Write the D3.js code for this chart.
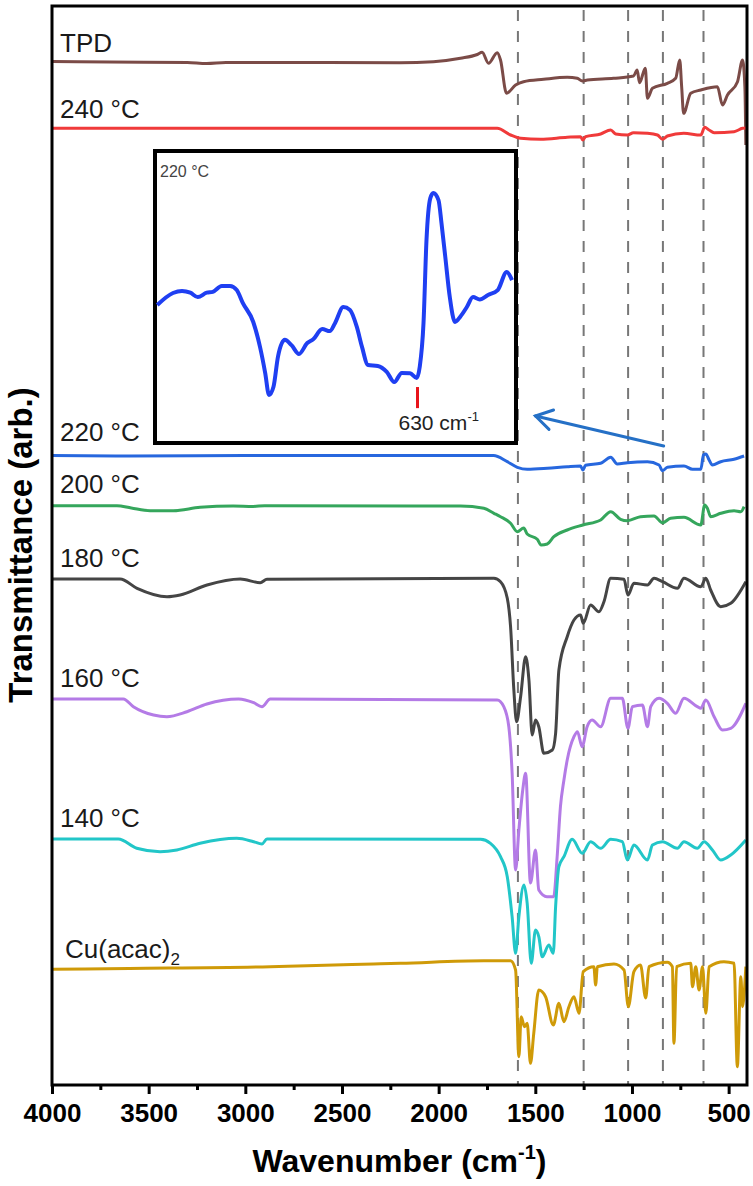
<!DOCTYPE html>
<html>
<head>
<meta charset="utf-8">
<script src="https://cdn.jsdelivr.net/npm/d3@7/dist/d3.min.js"></script>
<style>
  html, body { margin: 0; padding: 0; background: #fff; }
  svg { display: block; font-family: "Liberation Sans", Arial, sans-serif; }
</style>
</head>
<body>
<svg id="chart" width="753" height="1186"></svg>
<script>
// ---------------- data ----------------
const majorTicks = [4000, 3500, 3000, 2500, 2000, 1500, 1000, 500];
const minorTicks = [3750, 3250, 2750, 2250, 1750, 1250, 750];
const markerLines = [1590, 1250, 1020, 840, 630];

const seriesNames = ["TPD", "240 °C", "220 °C", "200 °C", "180 °C", "160 °C", "140 °C", "Cu(acac)2"];

const tpd = [[4000,102.05],[3700,102.0],[3300,101.95],[3200,101.85],[3100,101.95],[2700,101.95],[2200,101.93],
  [2027,102.03],[1887,102.37],[1800,102.75],[1775,102.97],[1742,101.87],[1697,102.93],[1680,102.2],[1649,98.87],
  [1602,99.7],[1561,100.03],[1457,100.27],[1335,100.47],[1283,100.37],[1257,100.1],[1231,100.2],[1095,100.37],
  [992,100.6],[973,101.2],[961,99.93],[931,101.37],[920,98.37],[894,99.37],[817,99.87],[774,100.37],[753,102.2],
  [743,99.53],[733,96.87],[696,98.87],[644,99.2],[558,99.53],[532,97.7],[506,98.7],[454,100.03],[428,102.2],
  [416,99.53],[411,93.7]];

const t240 = [[4000,95.37],[1697,95.37],[1628,94.7],[1576,94.37],[1473,94.27],[1335,94.47],[1266,94.53],[1254,94.2],
  [1240,94.53],[1162,94.8],[1110,95.2],[1084,94.8],[1024,94.7],[992,94.93],[920,94.87],[868,94.7],[842,94.27],
  [817,94.6],[732,94.87],[644,94.7],[624,95.47],[601,95.2],[575,94.93],[472,95.03],[428,95.37],[411,95.4]];

const t220 = [[4000,62.65],[3600,62.6],[3000,62.65],[1716,62.65],[1645,62.03],[1593,61.47],[1542,61.27],[1438,61.37],
  [1335,61.53],[1266,61.6],[1254,61.2],[1240,61.67],[1162,61.87],[1110,62.47],[1076,61.8],[1024,61.93],[920,62.03],
  [860,61.7],[842,61.13],[817,61.47],[731,61.6],[687,61.27],[644,61.27],[630,62.7],[618,62.8],[601,62.2],
  [584,61.7],[541,62.03],[472,62.27],[420,62.6]];

const t200 = [[4000,57.63],[3664,57.63],[3590,57.4],[3493,57.13],[3373,57.13],[3234,57.47],[3063,57.6],[2960,57.55],
  [2900,57.63],[1887,57.6],[1766,57.37],[1714,56.87],[1680,56.53],[1628,55.87],[1593,55.03],[1560,55.4],[1542,54.8],
  [1490,54.27],[1470,53.7],[1438,53.8],[1404,54.53],[1335,55.2],[1254,55.7],[1162,56.2],[1110,57.03],[1059,56.27],
  [1024,56.13],[956,56.53],[886,56.6],[842,55.93],[800,56.37],[731,56.47],[644,55.7],[624,57.7],[610,57.37],
  [593,56.53],[541,56.87],[472,57.13],[437,57.03],[420,57.53]];

const t180 = [[4000,50.3],[3648,50.3],[3560,49.37],[3405,48.53],[3337,48.7],[3198,49.7],[3026,50.3],[2923,49.93],
  [2888,50.27],[1714,50.37],[1680,50.03],[1645,48.37],[1628,45.53],[1611,39.2],[1597,36.03],[1576,38.53],[1550,42.53],
  [1533,40.2],[1516,34.7],[1499,36.2],[1482,35.53],[1456,32.87],[1412,33.2],[1395,34.87],[1378,41.2],[1335,44.53],
  [1300,46.2],[1266,46.7],[1252,45.87],[1214,47.7],[1171,47.03],[1145,48.03],[1110,50.37],[1041,50.27],[1021,48.7],
  [990,49.87],[920,49.7],[886,50.37],[842,50.03],[765,49.37],[731,50.37],[644,49.53],[618,50.37],[593,49.2],
  [541,47.53],[489,47.87],[411,50.03]];

const t160 = [[4000,38.3],[3631,38.3],[3579,37.53],[3475,36.7],[3406,36.53],[3302,37.03],[3199,37.8],[3035,38.3],
  [2957,37.93],[2914,37.53],[2871,38.3],[1697,38.2],[1663,37.53],[1637,35.53],[1620,30.9],[1602,21.2],[1585,25.2],
  [1565,29.2],[1550,30.87],[1525,19.9],[1499,23.2],[1482,19.2],[1440,18.53],[1405,18.53],[1387,22.53],[1370,27.53],
  [1352,30.2],[1335,32.2],[1300,34.53],[1282,35.03],[1258,33.53],[1232,35.53],[1206,36.2],[1162,35.53],[1110,38.37],
  [1050,38.37],[1021,35.37],[998,37.53],[946,37.7],[920,35.53],[903,37.53],[860,38.37],[817,37.87],[774,36.87],
  [731,38.37],[662,37.53],[644,37.37],[618,38.2],[575,36.53],[532,35.2],[489,35.37],[411,37.87]];

const t140 = [[4000,24.3],[3657,24.3],[3562,23.37],[3441,23.03],[3354,23.2],[3234,23.87],[3044,24.37],[2957,24.03],
  [2914,23.8],[2888,24.3],[1783,24.27],[1732,23.87],[1680,22.53],[1645,20.53],[1620,16.53],[1602,12.87],[1585,16.53],
  [1559,19.7],[1542,17.87],[1521,11.87],[1499,15.2],[1482,14.53],[1464,12.53],[1430,13.7],[1407,12.87],[1395,17.53],
  [1378,21.53],[1352,22.53],[1309,24.27],[1257,22.87],[1214,24.03],[1162,23.37],[1110,24.27],[1050,24.03],[1024,22.2],
  [990,23.7],[920,22.2],[894,23.7],[842,24.03],[765,23.37],[731,24.03],[662,23.37],[627,24.03],[584,23.2],
  [541,22.2],[489,22.7],[411,24.2]];

const tCu = [[4000,11.27],[3600,11.35],[2871,11.53],[2681,11.63],[2336,11.8],[2198,11.87],[1766,12.13],[1628,12.13],
  [1602,11.2],[1585,2.53],[1573,6.53],[1556,5.53],[1542,5.87],[1525,1.87],[1508,4.87],[1482,9.2],[1447,8.53],
  [1407,5.7],[1378,7.87],[1352,6.03],[1326,7.53],[1300,8.53],[1274,6.87],[1252,11.03],[1197,11.53],[1188,9.7],
  [1179,11.53],[1093,11.8],[1041,11.2],[1019,7.53],[990,11.03],[956,11.7],[929,8.4],[912,11.53],[817,11.97],
  [791,11.53],[783,3.87],[769,11.53],[696,11.87],[687,9.53],[670,11.53],[653,9.2],[635,11.53],[618,6.87],
  [601,11.53],[524,12.03],[472,11.87],[455,1.53],[437,10.53],[428,7.53],[411,11.53]];

// inset: 220 °C detail
const insetSeries = [[977,47.1],[956,51.2],[944,51.9],[933,51.3],[923,49.8],[911,51.3],[903,51.6],[891,53.6],[880,53.6],
  [871,52.2],[863,47.8],[849,41.3],[840,32.8],[833,23.8],[828,16.4],[822,19.2],[816,29.5],[807,35.2],[798,33.4],
  [788,30.4],[777,34.1],[769,35.4],[757,38.9],[747,38.2],[740,40.9],[729,46.4],[720,45.4],[711,39.7],[704,32.8],
  [696,26.6],[683,26.3],[671,24.3],[661,20.8],[651,23.9],[640,23.8],[631,22.2],[627,26.0],[622,40.9],[618,69.3],
  [613,83.5],[609,85.3],[602,82.9],[598,75.0],[593,63.6],[587,49.9],[580,41.3],[573,43.1],[564,46.5],[556,49.8],
  [547,49.0],[536,50.5],[523,52.2],[511,58.4],[504,55.6]];
const insetMarkWn = 630;
const insetMarkRange = [11.9, 19.1];
const arrowFrom = [836, 63.6];
const arrowTo = [1499, 66.6];

const allSeries = [tpd, t240, t220, t200, t180, t160, t140, tCu];

// ---------------- styles / layout ----------------
const colors = ["#7b4b47", "#f03a3a", "#2767de", "#35a65c", "#454545", "#b47be6", "#22c6c8", "#cf9a08"];
const labelOffsets = [10, 10, 15, 13, 12, 12, 12, 11];
const plot = { left: 52, right: 747, top: 6, bottom: 1085 };

const svg = d3.select("#chart");
const x = d3.scaleLinear().domain([4000, 405]).range([plot.left, plot.right]);
const y = d3.scaleLinear().domain([0, 107.4]).range([1082, 8]);

// dashed reference lines
svg.append("g").selectAll("line").data(markerLines).join("line")
  .attr("x1", d => x(d)).attr("x2", d => x(d))
  .attr("y1", plot.top + 4).attr("y2", plot.bottom)
  .attr("stroke", "#777").attr("stroke-width", 2).attr("stroke-dasharray", "11,10");

// clip
svg.append("clipPath").attr("id", "clip").append("rect")
  .attr("x", plot.left).attr("y", plot.top).attr("width", plot.right - plot.left).attr("height", plot.bottom - plot.top);

const line = d3.line().x(d => x(d[0])).y(d => y(d[1])).curve(d3.curveMonotoneX);
svg.append("g").attr("clip-path", "url(#clip)").selectAll("path").data(allSeries).join("path")
  .attr("d", line).attr("fill", "none")
  .attr("stroke", (d, i) => colors[i]).attr("stroke-width", 3).attr("stroke-linejoin", "round");

// series labels
const labels = svg.append("g").attr("font-size", 26).attr("fill", "#1a1a1a");
seriesNames.forEach((name, i) => {
  const ty = y(allSeries[i][0][1]) - labelOffsets[i];
  const t = labels.append("text").attr("x", i === 7 ? 65 : 60).attr("y", ty);
  if (name === "Cu(acac)2") {
    t.append("tspan").text("Cu(acac)");
    t.append("tspan").text("2").attr("font-size", 17).attr("dy", 7);
  } else {
    t.text(name);
  }
});

// inset
const inset = { left: 155, right: 516, top: 151, bottom: 443 };
const xi = d3.scaleLinear().domain([980, 500]).range([155, 515]);
const yi = d3.scaleLinear().domain([0, 100]).range([443, 150]);
svg.append("rect").attr("x", inset.left).attr("y", inset.top)
  .attr("width", inset.right - inset.left).attr("height", inset.bottom - inset.top)
  .attr("fill", "#fff").attr("stroke", "#000").attr("stroke-width", 4);
svg.append("path").datum(insetSeries)
  .attr("d", d3.line().x(d => xi(d[0])).y(d => yi(d[1])).curve(d3.curveMonotoneX))
  .attr("fill", "none").attr("stroke", "#1f3ff2").attr("stroke-width", 4).attr("stroke-linejoin", "round");
svg.append("line").attr("x1", xi(insetMarkWn)).attr("x2", xi(insetMarkWn))
  .attr("y1", yi(insetMarkRange[1])).attr("y2", yi(insetMarkRange[0]))
  .attr("stroke", "#e8141b").attr("stroke-width", 3);
const markText = svg.append("text").attr("x", xi(insetMarkWn) - 19).attr("y", yi(4.4))
  .attr("font-size", 21).attr("fill", "#222");
markText.append("tspan").text("630 cm");
markText.append("tspan").text("-1").attr("font-size", 13).attr("dy", -9);
svg.append("text").attr("x", 160).attr("y", 177).attr("font-size", 16).attr("fill", "#444").text("220 °C");

// arrow
const ax0 = x(arrowFrom[0]), ay0 = y(arrowFrom[1]), ax1 = x(arrowTo[0]), ay1 = y(arrowTo[1]);
const ang = Math.atan2(ay0 - ay1, ax0 - ax1);
const armLen = 19, spread = 0.55;
const arrowG = svg.append("g").attr("stroke", "#2570c6").attr("stroke-width", 3).attr("fill", "none").attr("stroke-linecap", "round");
arrowG.append("line").attr("x1", ax0).attr("y1", ay0).attr("x2", ax1).attr("y2", ay1);
arrowG.append("path").attr("d",
  `M${ax1 + armLen * Math.cos(ang - spread)},${ay1 + armLen * Math.sin(ang - spread)} L${ax1},${ay1} L${ax1 + armLen * Math.cos(ang + spread)},${ay1 + armLen * Math.sin(ang + spread)}`);

// frame
svg.append("rect").attr("x", plot.left).attr("y", plot.top)
  .attr("width", plot.right - plot.left).attr("height", plot.bottom - plot.top)
  .attr("fill", "none").attr("stroke", "#000").attr("stroke-width", 3);

// x axis
const xAxis = svg.append("g").attr("transform", `translate(0,${plot.bottom})`)
  .call(d3.axisBottom(x).tickValues(majorTicks).tickFormat(d3.format("d")).tickSize(9).tickSizeOuter(0));
xAxis.select(".domain").remove();
xAxis.selectAll(".tick line").attr("stroke", "#000").attr("stroke-width", 3);
xAxis.selectAll(".tick text").attr("font-size", 26).attr("font-weight", "bold")
  .attr("font-family", "'Liberation Sans', Arial, sans-serif").attr("fill", "#000").attr("dy", "0.95em");
const xMinor = svg.append("g").attr("transform", `translate(0,${plot.bottom})`)
  .call(d3.axisBottom(x).tickValues(minorTicks).tickFormat("").tickSize(5).tickSizeOuter(0));
xMinor.select(".domain").remove();
xMinor.selectAll(".tick line").attr("stroke", "#000").attr("stroke-width", 3);

// axis titles
const xt = svg.append("text").attr("x", (plot.left + plot.right) / 2).attr("y", 1172)
  .attr("text-anchor", "middle").attr("font-size", 32).attr("font-weight", "bold").attr("fill", "#000");
xt.append("tspan").text("Wavenumber (cm");
xt.append("tspan").text("-1").attr("font-size", 20).attr("dy", -13);
xt.append("tspan").text(")").attr("dy", 13);

svg.append("text").attr("transform", `translate(32,545) rotate(-90)`)
  .attr("text-anchor", "middle").attr("font-size", 33).attr("font-weight", "bold").attr("fill", "#000")
  .text("Transmittance (arb.)");
</script>
</body>
</html>
